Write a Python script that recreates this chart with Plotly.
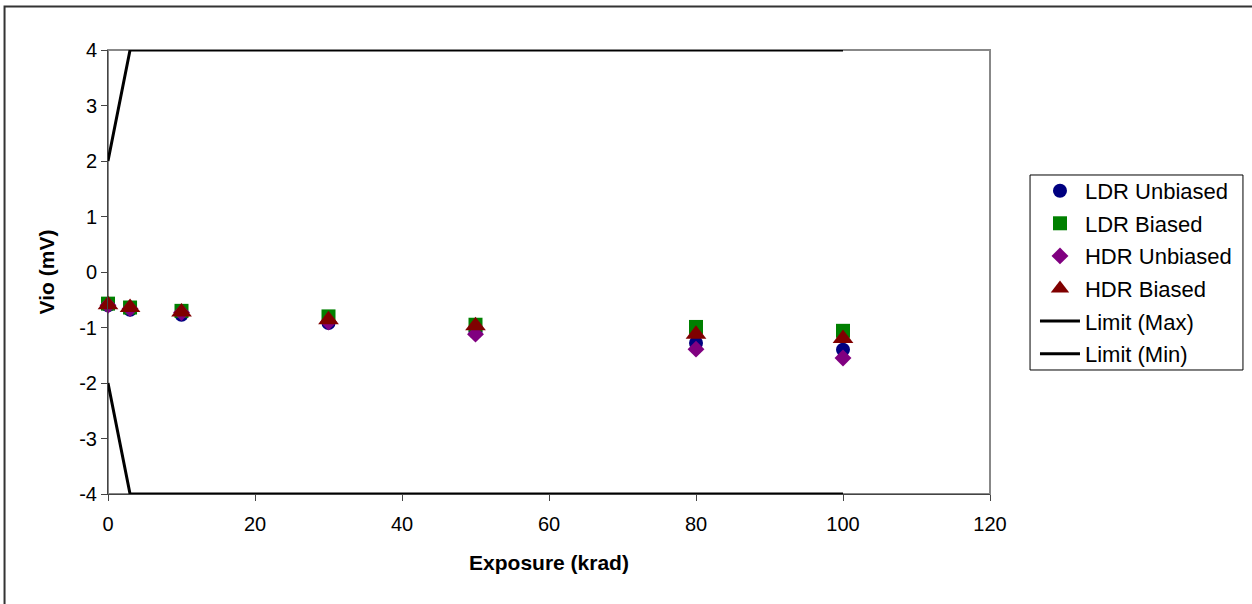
import plotly.graph_objects as go

exposure = [0, 3, 10, 30, 50, 80, 100]
ldr_unbiased = [-0.60, -0.68, -0.77, -0.92, -1.08, -1.28, -1.40]
ldr_biased = [-0.57, -0.64, -0.70, -0.80, -0.95, -0.99, -1.06]
hdr_unbiased = [-0.60, -0.66, -0.73, -0.90, -1.12, -1.39, -1.55]
hdr_biased = [-0.59, -0.64, -0.72, -0.86, -0.97, -1.12, -1.20]

limit_x = [0, 3, 100]
limit_max = [2, 4, 4]
limit_min = [-2, -4, -4]

x_ticks = [0, 20, 40, 60, 80, 100, 120]
y_ticks = [-4, -3, -2, -1, 0, 1, 2, 3, 4]
y_tick_labels = ["-4", "-3", "-2", "-1", "0", "1", "2", "3", "4"]

font = "Liberation Sans, Arial, sans-serif"

fig = go.Figure()

def add_markers(name, y, symbol, color, size):
    fig.add_trace(go.Scatter(
        x=exposure, y=y, mode="markers", name=name, legendgroup=name,
        marker=dict(symbol=symbol, color=color, size=size, line=dict(width=0)),
        cliponaxis=False))

add_markers("LDR Unbiased", ldr_unbiased, "circle", "#000080", 14)
add_markers("LDR Biased", ldr_biased, "square", "#008000", 14)
add_markers("HDR Unbiased", hdr_unbiased, "diamond", "#800080", 13)
add_markers("HDR Biased", hdr_biased, "triangle-up", "#800000", 18)

fig.add_trace(go.Scatter(x=limit_x, y=limit_max, mode="lines", name="Limit (Max)",
                         legendgroup="max", line=dict(color="black", width=3), cliponaxis=False))
fig.add_trace(go.Scatter(x=limit_x, y=limit_min, mode="lines", name="Limit (Min)",
                         legendgroup="min", line=dict(color="black", width=3), cliponaxis=False))

# outer chart border
fig.add_shape(type="rect", xref="paper", yref="paper",
              x0=-0.1173, x1=1.31, y0=-0.29, y1=1.098,
              line=dict(color="#333333", width=2), fillcolor="rgba(0,0,0,0)", layer="below")
# plot area frame
fig.add_shape(type="rect", xref="paper", yref="paper", x0=0, x1=1, y0=0, y1=1,
              line=dict(color="#888888", width=2), fillcolor="rgba(0,0,0,0)", layer="below")
# legend box
fig.add_shape(type="rect", xref="paper", yref="paper",
              x0=1.0454, x1=1.2868, y0=0.2793, y1=0.7185,
              line=dict(color="black", width=1), fillcolor="white", layer="below")

fig.update_layout(
    width=1252, height=604,
    margin=dict(l=108, r=262, t=50, b=110),
    paper_bgcolor="white", plot_bgcolor="white",
    font=dict(family=font, size=20, color="black"),
    showlegend=True,
    legend=dict(x=1.051, y=0.73, xanchor="left", yanchor="top",
                borderwidth=0, bgcolor="rgba(0,0,0,0)",
                font=dict(size=22, family=font), tracegroupgap=1,
                itemwidth=40),
    xaxis=dict(range=[0, 120], tickvals=x_ticks,
               showgrid=False, zeroline=False, showline=True, linecolor="#444444",
               linewidth=1, ticks="outside", ticklen=6, tickcolor="#444444",
               tickfont=dict(size=20), ticklabelstandoff=6,
               title=dict(text="<b>Exposure (krad)</b>", font=dict(size=21), standoff=21)),
    yaxis=dict(range=[-4, 4], tickvals=y_ticks, ticktext=y_tick_labels,
               showgrid=False, zeroline=False, showline=True, linecolor="#444444",
               linewidth=1, ticks="outside", ticklen=6, tickcolor="#444444",
               tickfont=dict(size=20),
               title=dict(text="<b>Vio (mV)</b>", font=dict(size=21), standoff=18)),
)

fig.write_html("out.html")
